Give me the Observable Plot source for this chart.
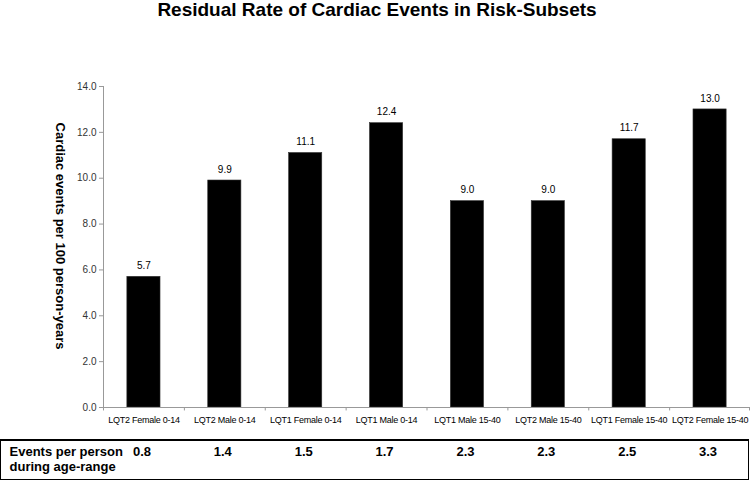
<!DOCTYPE html>
<html><head><meta charset="utf-8">
<script src="https://cdn.jsdelivr.net/npm/d3@7"></script>
<script src="https://cdn.jsdelivr.net/npm/@observablehq/plot@0.6"></script>
<style>
body{margin:0;background:#fff;font-family:"Liberation Sans",Arial,sans-serif;}
#wrap{position:relative;width:750px;height:482px;overflow:hidden;}
#title{position:absolute;top:0;left:0;width:754px;text-align:center;font-weight:bold;font-size:19px;line-height:19px;color:#000;}
#chart{position:absolute;top:30px;left:0;}
#chart svg{background:transparent;}
#chart g[aria-label="x-axis tick label"] text{letter-spacing:-0.25px;}
#box{position:absolute;left:0;top:439px;width:749px;height:41px;border:1px solid #000;border-top-width:2px;box-sizing:border-box;}
</style></head>
<body><div id="wrap"><div id="title">Residual Rate of Cardiac Events in Risk-Subsets</div><div id="chart"></div><div id="box"></div></div>
<script>
const categories = ["LQT2 Female 0-14","LQT2 Male 0-14","LQT1 Female 0-14","LQT1 Male 0-14","LQT1 Male 15-40","LQT2 Male 15-40","LQT1 Female 15-40","LQT2 Female 15-40"];
const rates = [5.7, 9.9, 11.1, 12.4, 9.0, 9.0, 11.7, 13.0];
const eventsPerPerson = [0.8, 1.4, 1.5, 1.7, 2.3, 2.3, 2.5, 3.3];
const yTicks = [0, 2, 4, 6, 8, 10, 12, 14];
const yLabel = "Cardiac events per 100 person-years";
const rowLabel = "Events per person\nduring age-range";

const data = categories.map((c, i) => ({cat: c, rate: rates[i], events: eventsPerPerson[i]}));
const W = 750, H = 452, ML = 103, MR = 0, MT = 56, MB = 75;
const step = (W - ML - MR) / categories.length;

const chart = Plot.plot({
  width: W, height: H,
  marginLeft: ML, marginRight: MR, marginTop: MT, marginBottom: MB,
  x: {domain: categories, paddingInner: 0.59, paddingOuter: 0.295, align: 0.5, round: false},
  y: {domain: [0, 14]},
  style: {fontFamily: '"Liberation Sans", Arial, sans-serif', background: "transparent"},
  marks: [
    Plot.barY(data, {x: "cat", y: "rate", fill: "#000", stroke: "#333", strokeWidth: 0.6}),
    Plot.text(data, {x: "cat", y: "rate", text: d => d3.format(".1f")(d.rate), dy: -11, fontSize: 10, fill: "#000"}),
    Plot.ruleY([0], {stroke: "#999"}),
    Plot.frame({anchor: "left", stroke: "#999"}),
    Plot.ruleX(categories, {x: d => d, dx: -step / 2, y1: 0, y2: -0.15, stroke: "#999"}),
    Plot.ruleX(categories.slice(-1), {x: d => d, dx: step / 2 - 1, y1: 0, y2: -0.15, stroke: "#999"}),
    Plot.axisY(yTicks, {tickSize: 4, tickPadding: 3, tickFormat: d3.format(".1f"), fontSize: 10, fill: "#333", stroke: "#999", label: null}),
    Plot.axisX({tickSize: 0, tickPadding: 9, fontSize: 9, fill: "#000", label: null}),
    Plot.text([yLabel], {frameAnchor: "left", textAnchor: "middle", lineAnchor: "middle", rotate: 90, dx: -43, dy: -11, fontSize: 13, fontWeight: "bold", fill: "#000"}),
    Plot.text(data, {x: "cat", text: d => d3.format(".1f")(d.events), frameAnchor: "bottom", lineAnchor: "middle", dy: 44, fontSize: 13, fontWeight: "bold", fill: "#000", dx: -2}),
    Plot.text([rowLabel], {frameAnchor: "bottom-left", textAnchor: "start", lineAnchor: "middle", dx: -94, dy: 51.5, lineHeight: 1.15, fontSize: 13, fontWeight: "bold", fill: "#000"})
  ]
});
document.getElementById("chart").append(chart);
</script>
</body></html>
